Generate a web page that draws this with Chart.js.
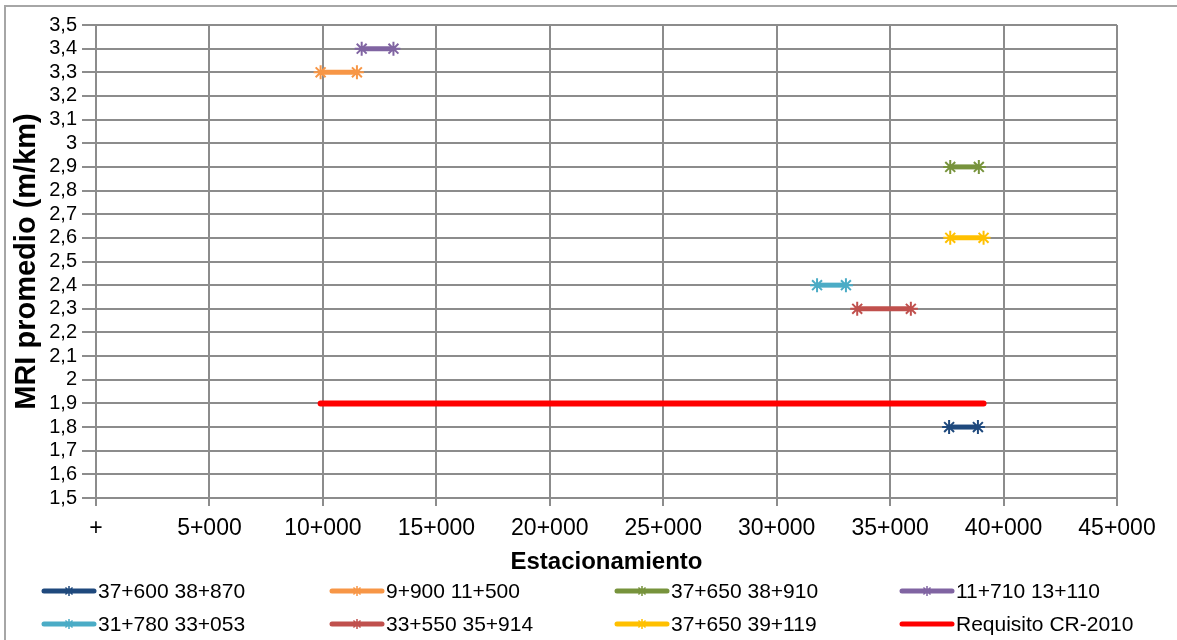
<!DOCTYPE html>
<html>
<head>
<meta charset="utf-8">
<script src="https://cdn.jsdelivr.net/npm/chart.js@4/dist/chart.umd.min.js"></script>
<style>
  html, body { margin: 0; padding: 0; background: #fff; }
  #wrap { position: relative; width: 1177px; height: 640px; overflow: hidden; background: #fff; }
  #frame { position: absolute; left: 4px; top: 5px; right: -10px; bottom: -10px;
           border-left: 2px solid #a6a6a6; border-top: 2px solid #a6a6a6; pointer-events: none; }
  #chart { position: absolute; left: 0; top: 0; }
  #legend { position: absolute; left: 0; top: 0; width: 1177px; height: 640px; pointer-events: none;
            font-family: "Liberation Sans", Arial, sans-serif; font-size: 21px; color: #000; }
  .item { position: absolute; display: flex; align-items: center; height: 24px; white-space: nowrap; }
  .item canvas { display: block; margin-right: 1px; }
</style>
</head>
<body>
<div id="wrap">
  <canvas id="chart" width="1177" height="640"></canvas>
  <div id="legend"></div>
  <div id="frame"></div>
</div>
<script>
// Tramos evaluados: estación inicial, estación final y MRI promedio (m/km)
const seriesNames = ["37+600 38+870", "9+900 11+500", "37+650 38+910", "11+710 13+110",
                     "31+780 33+053", "33+550 35+914", "37+650 39+119"];
const seriesStart = [37600, 9900, 37650, 11710, 31780, 33550, 37650];
const seriesEnd   = [38870, 11500, 38910, 13110, 33053, 35914, 39119];
const seriesMRI   = [1.8, 3.3, 2.9, 3.4, 2.4, 2.3, 2.6];

// Requisito de la norma
const reqName  = "Requisito CR-2010";
const reqStart = 9900;
const reqEnd   = 39119;
const reqValue = 1.9;

// Etiquetas de los ejes
const xTickLabels = ["+", "5+000", "10+000", "15+000", "20+000", "25+000", "30+000", "35+000", "40+000", "45+000"];
const yTickLabels = ["1,5", "1,6", "1,7", "1,8", "1,9", "2", "2,1", "2,2", "2,3", "2,4", "2,5",
                     "2,6", "2,7", "2,8", "2,9", "3", "3,1", "3,2", "3,3", "3,4", "3,5"];

const seriesColors = ["#1F497D", "#F79646", "#77933C", "#8064A2", "#4BACC6", "#C0504D", "#FFC000"];
const reqColor = "#FF0000";

const FONT = "'Liberation Sans', Arial, sans-serif";
const GRID = "#8c8c8c";

const datasets = seriesNames.map((name, i) => ({
  label: name,
  data: [{ x: seriesStart[i], y: seriesMRI[i] }, { x: seriesEnd[i], y: seriesMRI[i] }],
  borderColor: seriesColors[i],
  backgroundColor: seriesColors[i],
  borderWidth: 5,
  pointStyle: "star",
  pointRadius: 7,
  pointBorderWidth: 2,
  pointBorderColor: seriesColors[i],
  showLine: true,
  tension: 0
}));
datasets.push({
  label: reqName,
  data: [{ x: reqStart, y: reqValue }, { x: reqEnd, y: reqValue }],
  borderColor: reqColor,
  backgroundColor: reqColor,
  borderWidth: 6,
  borderCapStyle: "round",
  pointRadius: 0,
  showLine: true,
  tension: 0
});

new Chart(document.getElementById("chart"), {
  type: "scatter",
  data: { datasets },
  options: {
    responsive: false,
    devicePixelRatio: 1,
    animation: false,
    layout: { padding: { left: 5, top: 25, right: 60, bottom: 63 } },
    plugins: { legend: { display: false }, tooltip: { enabled: false } },
    elements: { line: { borderJoinStyle: "round" } },
    scales: {
      x: {
        type: "linear",
        min: 0, max: 45000,
        afterFit: s => { s.height = 79; },
        ticks: {
          stepSize: 5000,
          autoSkip: false,
          maxRotation: 0,
          padding: 9,
          color: "#000",
          font: { family: FONT, size: 23 },
          callback: v => xTickLabels[Math.round(v / 5000)]
        },
        grid: { color: GRID, lineWidth: 2, tickLength: 8, tickColor: GRID },
        border: { display: true, color: GRID, width: 2 },
        title: {
          display: true,
          text: "Estacionamiento",
          color: "#000",
          font: { family: FONT, size: 24, weight: "bold" },
          padding: { top: 0, bottom: 0 }
        }
      },
      y: {
        min: 1.5, max: 3.5,
        afterFit: s => { s.width = 91; },
        ticks: {
          stepSize: 0.1,
          autoSkip: false,
          padding: 5,
          color: "#000",
          font: { family: FONT, size: 20 },
          callback: v => yTickLabels[Math.round((v - 1.5) * 10)]
        },
        grid: { color: GRID, lineWidth: 2, tickLength: 14, tickColor: GRID },
        border: { display: true, color: GRID, width: 2 },
        title: {
          display: true,
          text: "MRI promedio (m/km)",
          color: "#000",
          font: { family: FONT, size: 29, weight: "bold" },
          padding: { top: 5, bottom: 0 }
        }
      }
    }
  }
});

// Leyenda en cuatro columnas con muestra de línea y marcador
const legendNames = seriesNames.concat([reqName]);
const legendColors = seriesColors.concat([reqColor]);
const legendMarker = legendNames.map((n, i) => i < seriesNames.length);
const colX = [41, 329, 614, 899];
const rowY = [579, 612];

function drawStar(ctx, x, y, r) {
  ctx.beginPath();
  ctx.moveTo(x, y - r); ctx.lineTo(x, y + r);
  ctx.moveTo(x - r, y); ctx.lineTo(x + r, y);
  const d = r * Math.SQRT1_2;
  ctx.moveTo(x - d, y - d); ctx.lineTo(x + d, y + d);
  ctx.moveTo(x - d, y + d); ctx.lineTo(x + d, y - d);
  ctx.stroke();
}

const legendEl = document.getElementById("legend");
legendNames.forEach((name, i) => {
  const item = document.createElement("div");
  item.className = "item";
  item.style.left = colX[i % 4] + "px";
  item.style.top = rowY[Math.floor(i / 4)] + "px";
  const c = document.createElement("canvas");
  c.width = 56; c.height = 16;
  const ctx = c.getContext("2d");
  ctx.strokeStyle = legendColors[i];
  ctx.lineCap = "round";
  ctx.lineWidth = 5;
  ctx.beginPath(); ctx.moveTo(3, 8); ctx.lineTo(53, 8); ctx.stroke();
  if (legendMarker[i]) {
    ctx.lineWidth = 1.5;
    ctx.lineCap = "butt";
    drawStar(ctx, 28, 8, 5);
  }
  const t = document.createElement("span");
  t.textContent = name;
  item.appendChild(c);
  item.appendChild(t);
  legendEl.appendChild(item);
});
</script>
</body>
</html>
